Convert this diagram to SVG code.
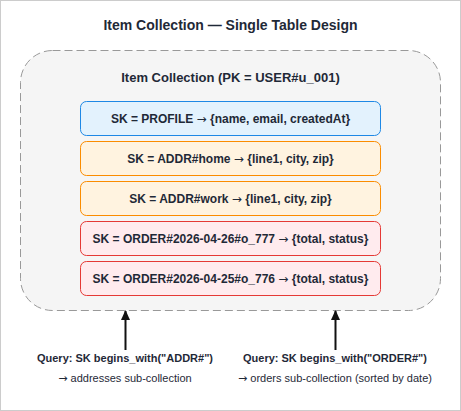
<svg xmlns="http://www.w3.org/2000/svg" width="461" height="411" viewBox="0 0 461 411">
<defs>
<style>
text{font-family:"Liberation Sans",Arial,Helvetica,sans-serif;fill:#1f2937;text-anchor:middle}
.t{font-size:14px;font-weight:bold}
.h{font-size:13px;font-weight:bold}
.b{font-size:12px;font-weight:bold}
.q{font-size:11px;font-weight:bold}
.s{font-size:11px}
.ar{font-family:"DejaVu Sans",sans-serif;font-weight:normal}
.blue{fill:#e3f2fd;stroke:#1e88e5;stroke-width:1}
.orange{fill:#fff3e0;stroke:#fb8c00;stroke-width:1}
.red{fill:#ffebee;stroke:#e53935;stroke-width:1}
.conn{stroke:#111;stroke-width:2;fill:none}
</style>
<marker id="ah" viewBox="0 0 10 10" refX="9" refY="5" markerWidth="10" markerHeight="10" markerUnits="userSpaceOnUse" orient="auto">
<path d="M0,0.5 L10,5 L0,9.5 z" fill="#111"/>
</marker>
</defs>
<rect x="0.5" y="0.5" width="460" height="410" fill="#fff" stroke="#ccc"/>
<text class="t" x="230.5" y="30">Item Collection — Single Table Design</text>
<g id="collection">
<rect x="20.5" y="50.5" width="420" height="260" rx="32" ry="32" fill="#f5f5f5" stroke="#999" stroke-dasharray="8,4"/>
<text class="h" x="230.5" y="82">Item Collection (PK = USER#u_001)</text>
</g>
<g id="profile"><rect class="blue" x="80.5" y="101.5" width="300" height="34" rx="6"/><text class="b" x="230.5" y="122.5">SK = PROFILE <tspan class="ar">→</tspan> {name, email, createdAt}</text></g>
<g id="addr-home"><rect class="orange" x="80.5" y="141.5" width="300" height="34" rx="6"/><text class="b" x="230.5" y="162.5">SK = ADDR#home <tspan class="ar">→</tspan> {line1, city, zip}</text></g>
<g id="addr-work"><rect class="orange" x="80.5" y="181.5" width="300" height="34" rx="6"/><text class="b" x="230.5" y="202.5">SK = ADDR#work <tspan class="ar">→</tspan> {line1, city, zip}</text></g>
<g id="order-777"><rect class="red" x="80.5" y="221.5" width="300" height="34" rx="6"/><text class="b" x="230.5" y="242.5">SK = ORDER#2026-04-26#o_777 <tspan class="ar">→</tspan> {total, status}</text></g>
<g id="order-776"><rect class="red" x="80.5" y="261.5" width="300" height="34" rx="6"/><text class="b" x="230.5" y="282.5">SK = ORDER#2026-04-25#o_776 <tspan class="ar">→</tspan> {total, status}</text></g>
<g id="connectors">
<line class="conn" x1="125.5" y1="350" x2="125.5" y2="311" marker-end="url(#ah)"/>
<line class="conn" x1="335.5" y1="350" x2="335.5" y2="311" marker-end="url(#ah)"/>
</g>
<g id="query-addr">
<text class="q" x="125" y="362">Query: SK begins_with("ADDR#")</text>
<text class="s" x="125" y="382"><tspan class="ar">→</tspan> addresses sub-collection</text>
</g>
<g id="query-order">
<text class="q" x="335" y="362">Query: SK begins_with("ORDER#")</text>
<text class="s" x="335" y="382"><tspan class="ar">→</tspan> orders sub-collection (sorted by date)</text>
</g>
</svg>
